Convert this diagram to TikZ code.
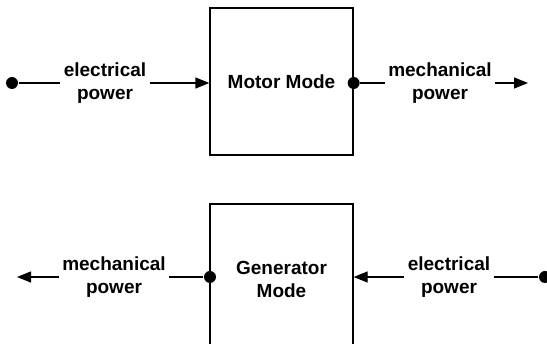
\documentclass[tikz,border=0pt]{standalone}
\usepackage{fontspec}
\setmainfont{Liberation Sans}
\usetikzlibrary{arrows.meta}
\begin{document}
\begin{tikzpicture}[x=1pt, y=-1pt, line width=1.3pt, >={Triangle[length=14pt,width=11pt]},
    every node/.style={align=center, font=\fontsize{19}{23}\selectfont\bfseries, inner sep=3pt},
    modebox/.style={rectangle, draw, minimum width=143pt, minimum height=147pt},
    dot/.style={circle, fill, inner sep=0pt, minimum size=12pt}]
        \useasboundingbox (0,0) rectangle (547,344);
        \clip (0,0) rectangle (547,344);

        % motor mode
        \node (motor) [modebox] at (281.5,81.5) {Motor Mode};
        \node (dotA) [dot] at (12,83) {};
        \node (elecA) at (105,83) {electrical\\power};
        \node (dotB) [dot] at (motor.east |- dotA) {};
        \node (mechA) at (440,83) {mechanical\\power};
        \coordinate (outA) at (528,83);

        \draw (dotA) -- (elecA);
        \draw[->] (elecA) -- (motor.west |- elecA);
        \draw (dotB) -- (mechA);
        \draw[->] (mechA) -- (outA);

        % generator mode
        \node (gen) [modebox, minimum height=150pt] at (281.5,279) {Generator\\Mode};
        \node (dotC) [dot] at (210,277) {};
        \node (mechB) at (114,277) {mechanical\\power};
        \coordinate (outB) at (17,277);
        \node (elecB) at (449,277) {electrical\\power};
        \node (dotD) [dot] at (545,277) {};

        \draw (dotC) -- (mechB);
        \draw[->] (mechB) -- (outB);
        \draw (dotD) -- (elecB);
        \draw[->] (elecB) -- (gen.east |- elecB);
\end{tikzpicture}
\end{document}
